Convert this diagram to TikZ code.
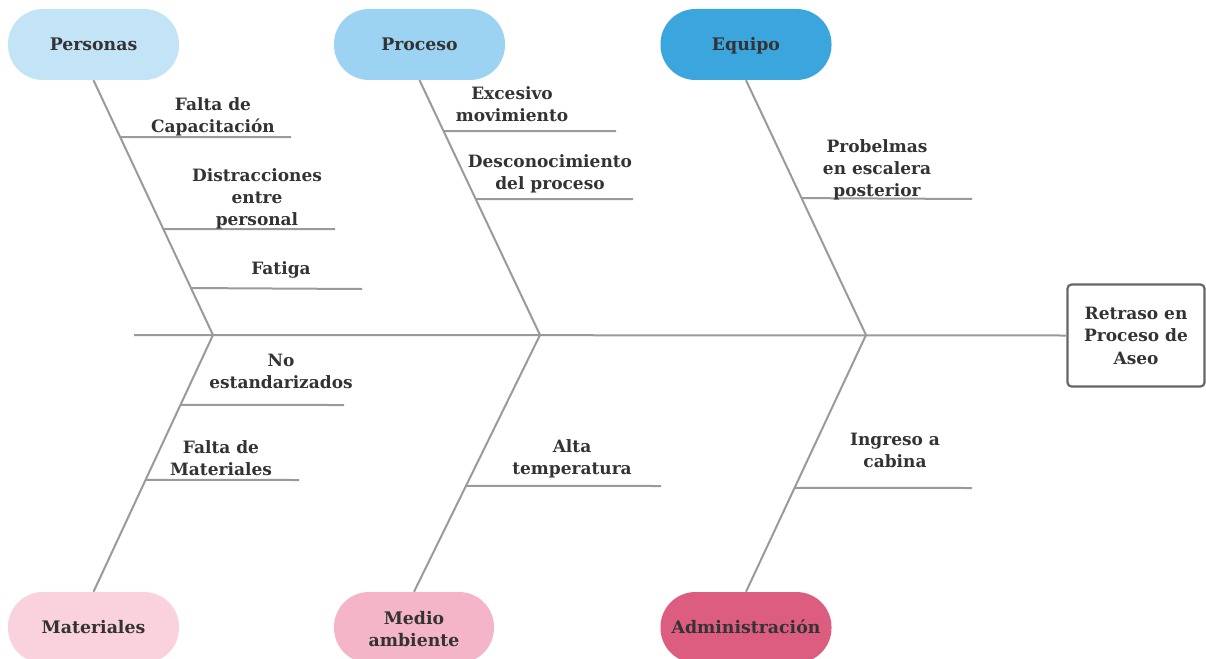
\documentclass[tikz,border=0pt]{standalone}
\usepackage{fontspec}
\setmainfont{DejaVu Serif}
\usetikzlibrary{calc}
\definecolor{txt}{HTML}{333333}
\definecolor{bone}{HTML}{9A9A9A}
\definecolor{boxline}{HTML}{666666}
\definecolor{cPers}{HTML}{C3E4F7}
\definecolor{cProc}{HTML}{9DD3F2}
\definecolor{cEqui}{HTML}{3BA5DE}
\definecolor{cMate}{HTML}{F9D2DD}
\definecolor{cMedi}{HTML}{F4B5C8}
\definecolor{cAdmi}{HTML}{DD5D81}
\begin{document}
\begin{tikzpicture}[x=1pt,y=-1pt,
  pill/.style={draw=none, minimum width=171pt, minimum height=71pt, rounded corners=35pt,
    inner sep=0pt, text height=12.6pt, text depth=0pt, align=center, text=txt,
    font=\bfseries\fontsize{17.3}{22}\selectfont},
  lbl/.style={align=center, text=txt, inner sep=0pt, font=\bfseries\fontsize{17}{22}\selectfont},
  effect/.style={draw=boxline, line width=2.2pt, rounded corners=4pt, minimum width=137pt,
    minimum height=102pt, align=center, text=txt, inner sep=0pt, font=\bfseries\fontsize{17}{22.5}\selectfont},
  boneline/.style={draw=bone, line width=2pt}
]
\useasboundingbox (0,0) rectangle (1206,658);
% category pills
\node[pill, fill=cPers] (pers) at (93.5,44.5) {Personas};
\node[pill, fill=cProc] (proc) at (419.5,44.5) {Proceso};
\node[pill, fill=cEqui] (equi) at (746,44.5) {Equipo};
\node[pill, fill=cMate] (mate) at (93.5,627.5) {Materiales};
\node[pill, fill=cMedi, minimum width=160pt, text height=37pt] (medi) at (414,627.5) {Medio\\ambiente};
\node[pill, fill=cAdmi] (admi) at (746,627.5) {Administración};
% effect box
\node[effect] (eff) at (1136,335.5) {Retraso en\\Proceso de\\Aseo};
% spine
\coordinate (s0) at (134,335);
\coordinate (j1) at (213,335);
\coordinate (j2) at (540,335);
\coordinate (j3) at (866,335);
\draw[boneline] (s0) -- (eff.west);
% main bones
\draw[boneline] (pers.south) -- (j1);
\draw[boneline] (proc.south) -- (j2);
\draw[boneline] (equi.south) -- (j3);
\draw[boneline] (j1) -- (mate.north);
\draw[boneline] (j2) -- (medi.north);
\draw[boneline] (j3) -- (admi.north);
% sub-causes: start points on bones
\coordinate (a1) at ($(pers.south)!0.2235!(j1)$);
\coordinate (a2) at ($(pers.south)!0.5843!(j1)$);
\coordinate (a3) at ($(pers.south)!0.8157!(j1)$);
\coordinate (b1) at ($(proc.south)!0.2!(j2)$);
\coordinate (b2) at ($(proc.south)!0.4667!(j2)$);
\coordinate (c1) at ($(equi.south)!0.4627!(j3)$);
\coordinate (d1) at ($(j1)!0.2724!(mate.north)$);
\coordinate (d2) at ($(j1)!0.5642!(mate.north)$);
\coordinate (e1) at ($(j2)!0.5875!(medi.north)$);
\coordinate (f1) at ($(j3)!0.5953!(admi.north)$);
% end points
\coordinate (a1e) at (291,137);
\coordinate (a2e) at (335,229);
\coordinate (a3e) at (362,289);
\coordinate (b1e) at (616,131);
\coordinate (b2e) at (633,199);
\coordinate (c1e) at (972,199);
\coordinate (d1e) at (344,405);
\coordinate (d2e) at (299,480);
\coordinate (e1e) at (661,486);
\coordinate (f1e) at (972,488);
\foreach \p in {a1,a2,a3,b1,b2,c1,d1,d2,e1,f1}{
  \draw[boneline] (\p) -- (\p e);
}
% labels
\node[lbl] (la1) at (213,117) {Falta de\\Capacitación};
\node[lbl] (la2) at (257,199) {Distracciones\\entre\\personal};
\node[lbl] (la3) at (281,270) {Fatiga};
\node[lbl] (lb1) at (512,104) {Excesivo\\movimiento};
\node[lbl] (lb2) at (550,173.5) {Desconocimiento\\del proceso};
\node[lbl] (lc1) at (877,170) {Probelmas\\en escalera\\posterior};
\node[lbl] (ld1) at (281,371) {No\\estandarizados};
\node[lbl] (ld2) at (221,458) {Falta de\\Materiales};
\node[lbl] (le1) at (572,459) {Alta\\temperatura};
\node[lbl] (lf1) at (895,450) {Ingreso a\\cabina};
\end{tikzpicture}
\end{document}
